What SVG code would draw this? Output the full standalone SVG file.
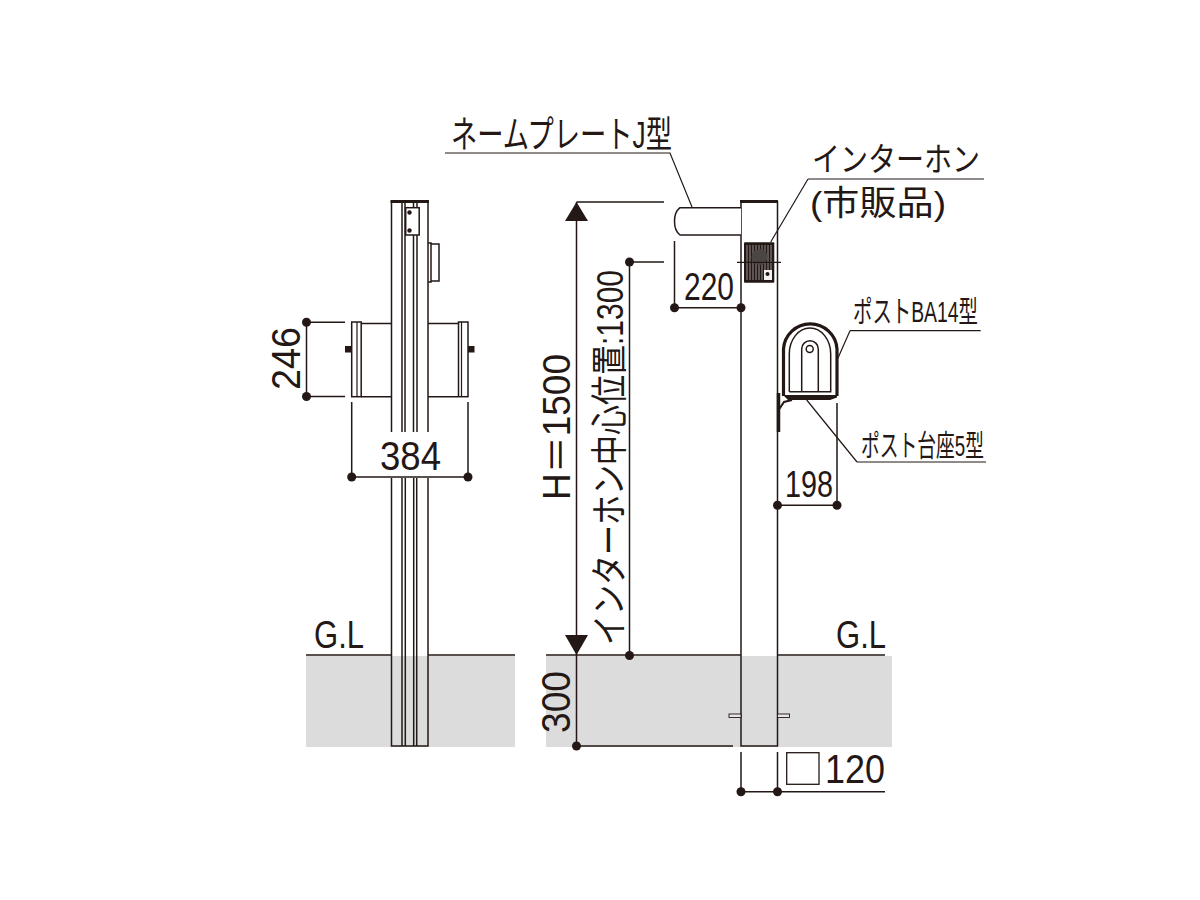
<svg xmlns="http://www.w3.org/2000/svg" width="1200" height="900" viewBox="0 0 1200 900">
<style>
.l{fill:none;stroke:#231815;stroke-width:1.5}
.t{fill:none;stroke:#231815;stroke-width:1.2}
.k{fill:none;stroke:#231815;stroke-width:3}
.w{fill:#fff;stroke:#231815;stroke-width:1.5}
.d{fill:#231815}
.g{fill:#dcdcdc}
text{fill:#231815;font-family:"Liberation Sans","Noto Sans CJK JP",sans-serif}
</style>
<defs><circle id="dot" class="d" r="4.500"/></defs>
<rect width="1200" height="900" fill="#fff"/>
<g id="ground">
<rect class="g" x="306" y="656" width="209" height="91"/>
<rect class="g" x="546" y="656" width="346" height="91"/>
<path class="l" d="M306 655H391M428 655H515M546 655H741M778 655H885"/>
</g>
<g id="side-view">
<path class="l" d="M391.500 201V432M391.500 478V746H428V478M428 432V201M402 201V432M405 201V432M413.500 201V432M417 201V432M402 478V746M405.300 478V746M413.700 478V746M416.700 478V746"/>
<path class="k" d="M390.500 201.500H429"/>
<rect class="w" x="405.700" y="207.700" width="13.500" height="27.300"/>
<circle class="d" cx="409.500" cy="212.500" r="2.200"/><circle class="d" cx="409.500" cy="230.500" r="2.200"/>
<path class="l" d="M428 243H431V282H428M431 244H439V281H431"/>
<path class="l" d="M361 323.500H391.500M361 396.700H391.500M428 323.500H458M428 396.700H458"/>
<rect class="w" x="351.700" y="322" width="9.500" height="74.700"/>
<rect class="w" x="458.500" y="322" width="9.500" height="74.700"/>
<path class="t" d="M357 322V396.700M461.500 322V396.700"/>
<rect class="d" x="345" y="346" width="7" height="6.500"/>
<rect class="d" x="468" y="346" width="6.500" height="6.500"/>
</g>
<g id="front-view">
<path class="l" d="M741 201V746H777.500V201"/>
<path class="k" d="M740 201.500H778"/>
<rect x="729" y="714" width="12" height="3.500" fill="#e8e8e8" stroke="#231815" stroke-width="0.900"/>
<rect x="777.500" y="714" width="12" height="3.500" fill="#e8e8e8" stroke="#231815" stroke-width="0.900"/>
</g>
<g id="name-plate">
<path class="w" d="M741 207.700H680Q674.500 212 674.500 221.300Q674.500 231 680 235H741"/>
</g>
<g id="intercom">
<rect x="744" y="242.300" width="30.300" height="40.400" rx="1" fill="#231815"/>
<path stroke="#b5b3b2" stroke-width="0.800" d="M747 245V280M750 245V280M753 245V280M756 245V280M759 245V280M762 245V280M765 245V280M768 245V280M771 245V280"/>
<circle cx="759.500" cy="257" r="8" fill="#4a4644"/>
<rect x="764" y="270" width="8" height="10" fill="#f2f2f2"/>
<circle class="d" cx="767.500" cy="274" r="2"/>
</g>
<g id="post-ba14">
<path d="M783.500 396V349A26.800 26.800 0 0 1 837 349V396" fill="#fff" stroke="#231815" stroke-width="3.200"/>
<path class="l" d="M789.300 391.700V354A20.700 26 0 0 1 830.700 354V391.700H789.300"/>
<path class="l" d="M801.700 391V349A8.300 8.300 0 0 1 818.300 349V391"/>
<circle class="l" cx="809.700" cy="349" r="3.500"/>
<path d="M783 395H837V397.500L830 400H788Z" fill="#231815"/>
</g>
<g id="post-base">
<path d="M778.500 393V432" stroke="#231815" stroke-width="3.500" fill="none"/>
<path d="M778 411L784 402L792 400" fill="none" stroke="#231815" stroke-width="2"/>
</g>
<g id="connectors">
<path class="t" d="M445 153H670L692 207M808 179H984M808 179L770.700 242M850 330.700H980.700M850 330.700L838 358M857 462H986M857 462L806.700 400"/>
<path class="l" d="M576.500 202H664M576.500 202V746M576.500 746H733M629.500 262H664M629.500 262V655"/>
<path class="d" d="M576.500 202L565 221H588ZM565 635H588L576.500 655Z"/>
<path class="t" d="M737 262.300H781"/>
<path class="l" d="M345 322.300H306.500V396.500H345M351.700 402V477H468V402"/>
<path class="l" d="M674.500 241V307.700H741M837 403V505.300H777.500M741 752V791.700H885M777.500 752V791.700"/>
<use href="#dot" x="576.500" y="746"/><use href="#dot" x="629.500" y="262"/><use href="#dot" x="629.500" y="655.500"/>
<use href="#dot" x="306.500" y="322.300"/><use href="#dot" x="306.500" y="396.500"/>
<use href="#dot" x="351.700" y="477"/><use href="#dot" x="468" y="477"/>
<use href="#dot" x="674.500" y="307.700"/><use href="#dot" x="741" y="307.700"/>
<use href="#dot" x="777.500" y="505.300"/><use href="#dot" x="837" y="505.300"/>
<use href="#dot" x="741" y="791.700"/><use href="#dot" x="777.500" y="791.700"/>
<rect x="786.700" y="752.700" width="32.300" height="31.600" fill="#fff" stroke="#231815" stroke-width="1.300"/>
</g>
<g id="labels">
<text x="451" y="148" font-size="37" textLength="221" lengthAdjust="spacingAndGlyphs">ネームプレートJ型</text>
<text x="812" y="171" font-size="33" textLength="168" lengthAdjust="spacingAndGlyphs">インターホン</text>
<text x="810" y="215" font-size="34" textLength="136" lengthAdjust="spacingAndGlyphs">(市販品)</text>
<text x="853" y="322" font-size="30" textLength="125" lengthAdjust="spacingAndGlyphs">ポストBA14型</text>
<text x="861" y="456" font-size="30" textLength="123" lengthAdjust="spacingAndGlyphs">ポスト台座5型</text>
<text x="380" y="470" font-size="40" textLength="61" lengthAdjust="spacingAndGlyphs">384</text>
<text x="684" y="300" font-size="38" textLength="50" lengthAdjust="spacingAndGlyphs">220</text>
<text x="785" y="497" font-size="37" textLength="48" lengthAdjust="spacingAndGlyphs">198</text>
<text x="825" y="783" font-size="40" textLength="60" lengthAdjust="spacingAndGlyphs">120</text>
<text x="314" y="648" font-size="38" textLength="50" lengthAdjust="spacingAndGlyphs">G.L</text>
<text x="836" y="648" font-size="38" textLength="50" lengthAdjust="spacingAndGlyphs">G.L</text>
<text transform="translate(300 390) rotate(-90)" font-size="41" textLength="63" lengthAdjust="spacingAndGlyphs">246</text>
<text transform="translate(570 500) rotate(-90)" font-size="38" textLength="146" lengthAdjust="spacingAndGlyphs">H＝1500</text>
<text transform="translate(623 645) rotate(-90)" font-size="37" textLength="375" lengthAdjust="spacingAndGlyphs">インターホン中心位置:1300</text>
<text transform="translate(570 733) rotate(-90)" font-size="41" textLength="62" lengthAdjust="spacingAndGlyphs">300</text>
</g>
</svg>
